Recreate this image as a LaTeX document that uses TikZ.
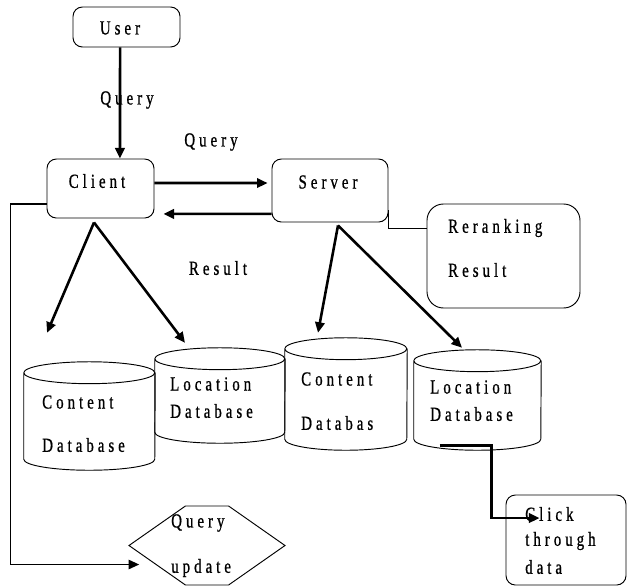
\documentclass[tikz,border=0pt]{standalone}
\usepackage{fontspec}
\setmainfont{Liberation Serif}[FakeStretch=0.75,FakeBold=0.8,LetterSpace=20]
\usetikzlibrary{shapes.symbols,arrows.meta}

% database drum: name, x, y, width, height
\newcommand{\dbnode}[5]{%
  \node[dim={#4}{#5},inner sep=0pt] (#1) at (#2,#3) {};
  \draw[link] ([yshift=-9.35pt]#1.north west)
    arc[start angle=180,end angle=540,x radius=#4*0.015cm,y radius=9.35pt]
    -- ([yshift=9.35pt]#1.south west)
    arc[start angle=180,end angle=360,x radius=#4*0.015cm,y radius=9.35pt]
    -- ([yshift=-9.35pt]#1.north east);}

\begin{document}
\begin{tikzpicture}[x=0.03cm,y=-0.03cm,
  arrow/.style={line width=2.2pt,-{Triangle[length=9pt,width=8pt]}},
  link/.style={line width=0.8pt},
  dim/.style 2 args={minimum width=#1*0.03cm,minimum height=#2*0.03cm},
  box/.style={draw,line width=0.8pt,rounded corners=8pt,inner sep=0pt},
  hexa/.style={draw,line width=0.8pt,signal,signal to=east and west,signal pointer angle=70,inner sep=0pt},
  txt/.style={font=\fontsize{17}{20}\selectfont,inner sep=0pt},
  ltxt/.style={txt,anchor=west}]
  \useasboundingbox (0,0) rectangle (627,586);

  % boxes
  \node[box,dim={107}{40}] (user) at (126.5,27) {};
  \node[box,dim={107}{59}] (client) at (100.5,188.5) {};
  \node[box,dim={116}{63}] (server) at (330,190.5) {};
  \node[box,rounded corners=14pt,dim={153}{104}] (rerank) at (503.5,256) {};
  \node[box,dim={120}{90}] (click) at (566,540) {};
  \node[hexa,dim={156}{79}] (qupd) at (207,545.5) {};

  % databases
  \dbnode{cdb1}{89.5}{416}{131}{108}
  \dbnode{ldb1}{220}{395.5}{130}{95}
  \dbnode{cdb2}{346}{394}{122}{112}
  \dbnode{ldb2}{477.5}{400}{127}{100}

  % texts
  \node[txt] (usertxt) at (120,28) {User};
  \node[txt] (clienttxt) at (97,181) {Client};
  \node[txt] (servertxt) at (328,182) {Server};
  \node[ltxt] (reranktxt) at (448,228) {Reranking};
  \node[ltxt] (rresulttxt) at (448,270) {Result};
  \node[ltxt] (cdb1a) at (42,402) {Content};
  \node[ltxt] (cdb1b) at (42,445) {Database};
  \node[ltxt] (ldb1a) at (170,384) {Location};
  \node[ltxt] (ldb1b) at (170,411) {Database};
  \node[ltxt] (cdb2a) at (301,379) {Content};
  \node[ltxt] (cdb2b) at (301,423) {Databas};
  \node[ltxt] (ldb2a) at (430,387) {Location};
  \node[ltxt] (ldb2b) at (430,414) {Database};
  \node[ltxt] (qupda) at (171,523) {Query};
  \node[ltxt] (qupdb) at (171,568) {update};
  \node[ltxt] (clicka) at (525,514) {Click};
  \node[ltxt] (clickb) at (525,541) {through};
  \node[ltxt] (clickc) at (525,567) {data};

  % labels
  \node[txt] (query1) at (127,100) {Query};
  \node[txt] (query2) at (211,142) {Query};
  \node[txt] (result) at (218,268) {Result};

  % connectors
  \draw[arrow] ([xshift=-5.5pt]user.south) -- ([xshift=16.6pt]client.north);
  \draw[arrow,shorten >=3.4pt] ([yshift=4.7pt]client.east) -- ([yshift=6.4pt]server.west);
  \draw[arrow,shorten >=7.7pt] ([yshift=-20pt]server.west) -- ([yshift=-21.7pt]client.east);
  \draw[link] ([yshift=-17pt]server.east) |- ([yshift=23.8pt]rerank.west);

  \draw[arrow] ([shift={(-6.5,4)}]client.south) -- ([shift={(-42.5,-29)}]cdb1.north);
  \draw[arrow] ([shift={(-6.5,4)}]client.south) -- ([shift={(-35,-5)}]ldb1.north);
  \draw[arrow] ([shift={(8,3)}]server.south) -- ([shift={(-28,-5)}]cdb2.north);
  \draw[arrow] ([shift={(8,3)}]server.south) -- ([shift={(-15.5,-2)}]ldb2.north);

  \draw[line width=1.2pt,-{Triangle[length=9pt,width=8pt]}] ([yshift=-13.2pt]client.west) -- ++(-36,0) |- ([shift={(11,19)}]qupd.west);
  \draw[arrow] ([shift={(-38,-5)}]ldb2.south) -- ++(52,0) |- ([shift={(34,-22)}]click.west);
\end{tikzpicture}
\end{document}
